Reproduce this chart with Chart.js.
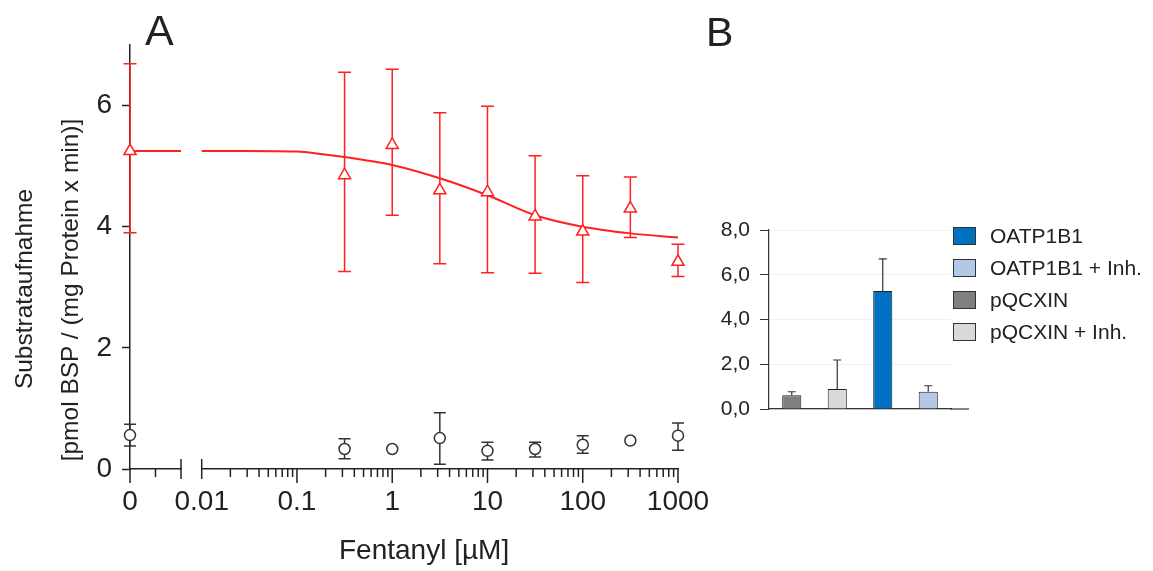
<!DOCTYPE html>
<html>
<head>
<meta charset="utf-8">
<script src="https://cdn.jsdelivr.net/npm/chart.js@4.4.1/dist/chart.umd.min.js"></script>
<style>
  body { margin: 0; background: #fff; }
  #wrap { position: relative; width: 1153px; height: 571px; overflow: hidden;
          font-family: 'Liberation Sans', Arial, sans-serif; color: #222; }
  canvas { position: absolute; }
  .txt { position: absolute; white-space: nowrap; }
  .ytitle { position: absolute; width: 400px; height: 24px; line-height: 24px; font-size: 24.5px;
            text-align: center; transform: rotate(-90deg); white-space: nowrap; }
  .box { position: absolute; width: 23px; height: 18px; box-sizing: border-box; border: 1px solid #333; }
</style>
</head>
<body>
<div id="wrap">
  <canvas id="zeroChart" width="200" height="571" style="left:0;top:0"></canvas>
  <canvas id="logChart" width="560" height="571" style="left:160px;top:0"></canvas>
  <canvas id="barChart" width="300" height="260" style="left:690px;top:190px"></canvas>

  <div class="txt" style="left:145px;top:9px;font-size:43px;line-height:42px">A</div>
  <div class="txt" style="left:706px;top:12px;font-size:41px;line-height:40px">B</div>
  <div class="ytitle" style="left:-176px;top:277px">Substrataufnahme</div>
  <div class="ytitle" style="left:-130px;top:278px">[pmol BSP / (mg Protein x min)]</div>
  <div class="txt" style="left:339px;top:535px;font-size:28px;line-height:30px">Fentanyl [µM]</div>
  <div id="legend"></div>
</div>

<script>
// panel A: doses (µM) and uptake values
const doses = [0.316, 1, 3.16, 10, 31.6, 100, 316, 1000];
const oatpMean = [4.85, 5.35, 4.60, 4.57, 4.17, 3.92, 4.30, 3.42];
const oatpHigh = [6.55, 6.60, 5.88, 5.99, 5.17, 4.84, 4.82, 3.71];
const oatpLow = [3.26, 4.19, 3.39, 3.24, 3.23, 3.08, 3.82, 3.18];
const vecMean = [0.33, 0.33, 0.51, 0.30, 0.33, 0.40, 0.47, 0.55];
const vecHigh = [0.50, null, 0.93, 0.44, 0.44, 0.55, null, 0.76];
const vecLow = [0.17, null, 0.08, 0.15, 0.20, 0.26, null, 0.31];

// value at 0 µM (left part of the broken axis)
const zeroOatpMean = [5.25];
const zeroOatpHigh = [6.69];
const zeroOatpLow = [3.90];
const zeroVecMean = [0.56];
const zeroVecHigh = [0.74];
const zeroVecLow = [0.38];

// fitted curve
const fitDoses = [0.01, 0.03, 0.1, 0.178, 0.316, 0.562, 1, 3.16, 10, 31.6, 100, 316, 1000];
const fitValues = [5.25, 5.25, 5.24, 5.20, 5.15, 5.09, 5.02, 4.80, 4.52, 4.19, 4.00, 3.89, 3.82];
const fitZeroX = [0, 2];
const fitZeroY = [5.25, 5.25];

const zeroTicks = [0, 1, 2];
const zeroTickLabels = ['0', '', ''];
const logMajor = [0.01, 0.1, 1, 10, 100, 1000];
const logTickLabels = ['0.01', '0.1', '1', '10', '100', '1000'];
const yTicksA = [0, 2, 4, 6];

// panel B
const barCats = ['pQCXIN', 'pQCXIN + Inh.', 'OATP1B1', 'OATP1B1 + Inh.'];
const barMeans = [0.61, 0.89, 5.27, 0.77];
const barHigh = [0.77, 2.19, 6.71, 1.04];
const barColors = ['#7f7f7f', '#d9d9d9', '#0070c0', '#b4c7e7'];
const legendOrder = ['OATP1B1', 'OATP1B1 + Inh.', 'pQCXIN', 'pQCXIN + Inh.'];

const red = 'rgb(255,32,32)';
const ink = '#222';
const narrow = { family: "'Liberation Sans Narrow', 'Arial Narrow', 'Liberation Sans', Arial, sans-serif", size: 28 };

// error bars from errHigh / errLow on each dataset
const errorBars = {
  id: 'errorBars',
  beforeDatasetsDraw(chart) {
    const ctx = chart.ctx;
    const ys = chart.scales.y;
    chart.data.datasets.forEach((ds, i) => {
      if (!ds.errHigh) return;
      const meta = chart.getDatasetMeta(i);
      ctx.save();
      ctx.strokeStyle = ds.errColor;
      ctx.lineWidth = ds.errWidth || 1.5;
      meta.data.forEach((el, j) => {
        const hi = ds.errHigh[j];
        if (hi == null) return;
        const lo = ds.errLow ? ds.errLow[j] : null;
        const w = ds.errCap / 2;
        const yHi = ys.getPixelForValue(hi);
        const yLo = lo == null ? el.y : ys.getPixelForValue(lo);
        ctx.beginPath();
        ctx.moveTo(el.x, yLo);
        ctx.lineTo(el.x, yHi);
        ctx.moveTo(el.x - w, yHi);
        ctx.lineTo(el.x + w, yHi);
        if (lo != null) {
          ctx.moveTo(el.x - w, yLo);
          ctx.lineTo(el.x + w, yLo);
        }
        ctx.stroke();
      });
      ctx.restore();
    });
  }
};

// x tick marks: long at labelled values, short otherwise, crossing at the break
const tickMarks = {
  id: 'tickMarks',
  afterDraw(chart, args, opts) {
    const sx = chart.scales.x;
    const y0 = chart.chartArea.bottom;
    const ctx = chart.ctx;
    ctx.save();
    ctx.strokeStyle = ink;
    ctx.lineWidth = 1.5;
    sx.ticks.forEach(t => {
      const px = sx.getPixelForValue(t.value);
      let up = 0, down = 8;
      if (opts.major.includes(t.value)) down = 14;
      if (opts.breaks.includes(t.value)) { up = 10; down = 10; }
      ctx.beginPath();
      ctx.moveTo(px, y0 - up);
      ctx.lineTo(px, y0 + down);
      ctx.stroke();
    });
    ctx.restore();
  }
};

const axisExtend = {
  id: 'axisExtend',
  afterDraw(chart, args, opts) {
    const { ctx, chartArea } = chart;
    ctx.save();
    ctx.strokeStyle = '#333';
    ctx.lineWidth = 1.2;
    ctx.beginPath();
    ctx.moveTo(chartArea.right - 1, chartArea.bottom);
    ctx.lineTo(chartArea.right + opts.length, chartArea.bottom);
    ctx.stroke();
    ctx.restore();
  }
};

const pts = (xs, ys) => xs.map((x, i) => ({ x: x, y: ys[i] }));

const xGrid = { display: true, drawOnChartArea: false, drawTicks: true, tickLength: 14, tickColor: 'rgba(0,0,0,0)' };

// left piece: 0 µM
new Chart(document.getElementById('zeroChart'), {
  type: 'line',
  data: {
    datasets: [
      {
        data: pts([0], zeroOatpMean), showLine: false, pointStyle: 'triangle', pointRadius: 7,
        pointBorderColor: red, pointBackgroundColor: '#fff', pointBorderWidth: 1.5,
        errHigh: zeroOatpHigh, errLow: zeroOatpLow, errColor: red, errCap: 13, clip: false
      },
      {
        data: pts([0], zeroVecMean), showLine: false, pointStyle: 'circle', pointRadius: 5.5,
        pointBorderColor: '#333', pointBackgroundColor: '#fff', pointBorderWidth: 1.5,
        errHigh: zeroVecHigh, errLow: zeroVecLow, errColor: '#333', errCap: 12, clip: false
      },
      {
        data: pts(fitZeroX, fitZeroY), borderColor: red, borderWidth: 2, pointRadius: 0, clip: false
      }
    ]
  },
  options: {
    responsive: false,
    animation: false,
    layout: { padding: { left: 0, top: 45, right: 19, bottom: 0 } },
    plugins: { legend: { display: false }, tooltip: { enabled: false }, tickMarks: { major: [0], breaks: [2] } },
    scales: {
      x: {
        type: 'linear', min: 0, max: 2,
        afterBuildTicks: s => { s.ticks = zeroTicks.map(v => ({ value: v })); },
        afterFit: s => { s.height = 102; },
        ticks: { autoSkip: false, maxRotation: 0, padding: 2, font: narrow, color: ink,
                 callback: v => zeroTickLabels[zeroTicks.indexOf(v)] },
        grid: xGrid,
        border: { color: ink, width: 1.5 }
      },
      y: {
        min: 0, max: 7,
        afterFit: s => { s.width = 130; },
        afterBuildTicks: s => { s.ticks = yTicksA.map(v => ({ value: v })); },
        ticks: { padding: 10, font: narrow, color: ink },
        grid: { drawOnChartArea: false, tickLength: 8, tickColor: ink, tickWidth: 1.5 },
        border: { color: ink, width: 1.5 }
      }
    }
  },
  plugins: [errorBars, tickMarks]
});

// right piece: log axis 0.01 - 1000 µM
const logTicks = [];
logMajor.forEach((m, i) => {
  logTicks.push(m);
  if (i < logMajor.length - 1) {
    for (let k = 2; k <= 9; k++) logTicks.push(+(m * k).toPrecision(3));
  }
});

new Chart(document.getElementById('logChart'), {
  type: 'line',
  data: {
    datasets: [
      {
        data: pts(doses, oatpMean), showLine: false, pointStyle: 'triangle', pointRadius: 7,
        pointBorderColor: red, pointBackgroundColor: '#fff', pointBorderWidth: 1.5,
        errHigh: oatpHigh, errLow: oatpLow, errColor: red, errCap: 13, clip: false
      },
      {
        data: pts(doses, vecMean), showLine: false, pointStyle: 'circle', pointRadius: 5.5,
        pointBorderColor: '#333', pointBackgroundColor: '#fff', pointBorderWidth: 1.5,
        errHigh: vecHigh, errLow: vecLow, errColor: '#333', errCap: 12, clip: false
      },
      {
        data: pts(fitDoses, fitValues), borderColor: red, borderWidth: 2, pointRadius: 0,
        cubicInterpolationMode: 'monotone', clip: false
      }
    ]
  },
  options: {
    responsive: false,
    animation: false,
    layout: { padding: { left: 41.7, top: 45, right: 42, bottom: 0 } },
    plugins: { legend: { display: false }, tooltip: { enabled: false }, tickMarks: { major: logMajor, breaks: [0.01] } },
    scales: {
      x: {
        type: 'logarithmic', min: 0.01, max: 1000,
        afterBuildTicks: s => { s.ticks = logTicks.map(v => ({ value: v })); },
        afterFit: s => { s.height = 102; },
        ticks: { autoSkip: false, maxRotation: 0, minRotation: 0, padding: 2, font: narrow, color: ink,
                 callback: v => { const i = logMajor.indexOf(v); return i < 0 ? '' : logTickLabels[i]; } },
        grid: xGrid,
        border: { color: ink, width: 1.5 }
      },
      y: { display: false, min: 0, max: 7 }
    }
  },
  plugins: [errorBars, tickMarks]
});

// panel B
new Chart(document.getElementById('barChart'), {
  type: 'bar',
  data: {
    labels: barCats,
    datasets: [{
      data: barMeans, backgroundColor: barColors, borderColor: '#222', borderWidth: 1,
      barPercentage: 0.42, categoryPercentage: 1,
      errHigh: barHigh, errColor: '#333', errCap: 8, errWidth: 1.2
    }]
  },
  options: {
    responsive: false,
    animation: false,
    layout: { padding: { left: 0, top: 40, right: 39, bottom: 0 } },
    plugins: { legend: { display: false }, tooltip: { enabled: false }, axisExtend: { length: 18 } },
    scales: {
      x: {
        grid: { display: false }, ticks: { display: false },
        border: { color: '#333', width: 1.2 },
        afterFit: s => { s.height = 41; }
      },
      y: {
        min: 0, max: 8,
        afterFit: s => { s.width = 79; },
        ticks: { stepSize: 2, padding: 10, color: ink,
                 font: { family: "'Liberation Sans', Arial, sans-serif", size: 21 },
                 callback: v => v.toFixed(1).replace('.', ',') },
        grid: { color: '#f0f0f0', tickColor: '#333', tickLength: 9 },
        border: { color: '#333', width: 1.2 }
      }
    }
  },
  plugins: [errorBars, axisExtend]
});

// legend for panel B, in the picture's order
const legendEl = document.getElementById('legend');
legendOrder.forEach((name, i) => {
  const top = 227 + i * 32;
  const color = barColors[barCats.indexOf(name)];
  legendEl.insertAdjacentHTML('beforeend',
    `<div class="box" style="left:953px;top:${top}px;background:${color}"></div>
     <div class="txt" style="left:990px;top:${top - 3}px;font-size:21px;line-height:24px">${name}</div>`);
});
</script>
</body>
</html>
